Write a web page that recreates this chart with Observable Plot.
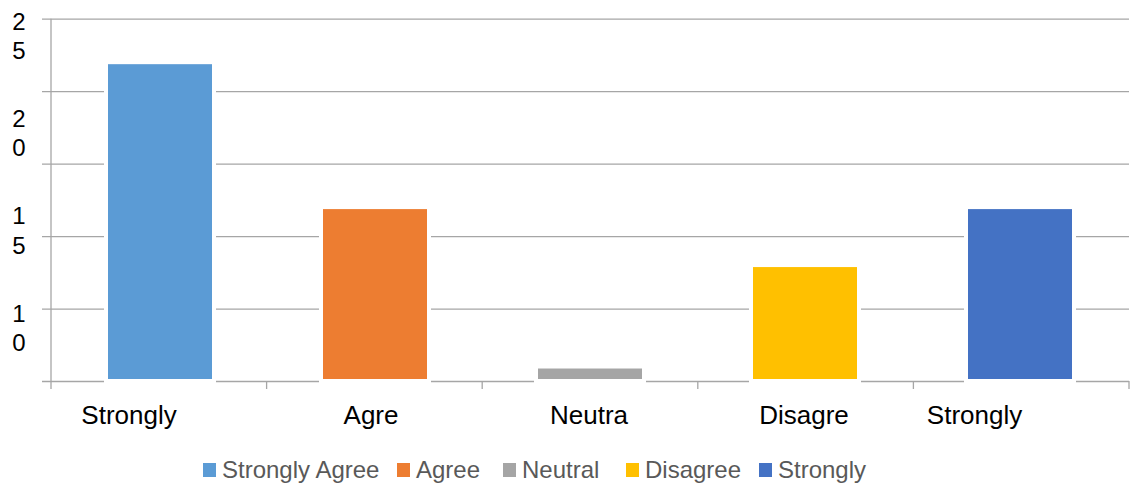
<!DOCTYPE html>
<html>
<head>
<meta charset="utf-8">
<script src="https://cdn.jsdelivr.net/npm/d3@7"></script>
<script src="https://cdn.jsdelivr.net/npm/@observablehq/plot@0.6"></script>
<style>
  html, body { margin: 0; padding: 0; background: #fff; }
  body { width: 1131px; height: 494px; overflow: hidden; font-family: "Liberation Sans", Arial, sans-serif; }
  #chart svg { display: block; }
  #legend { position: relative; height: 49px; }
  .item { position: absolute; top: 11px; display: flex; align-items: center; font-size: 24px; color: #595959; white-space: nowrap; }
  .sw { width: 13px; height: 14px; margin-right: 6px; }
</style>
</head>
<body>
<div id="chart"></div>
<div id="legend"></div>
<script>
const categories = ["Strongly Agree", "Agree", "Neutral", "Disagree", "Strongly"];
const tickLabels = ["Strongly", "Agre", "Neutra", "Disagre", "Strongly"];
const values = [22, 12, 1, 8, 12];
const colors = ["#5B9BD5", "#ED7D31", "#A5A5A5", "#FFC000", "#4472C4"];
const yTicks = [25, 20, 15, 10];
const gridTicks = [5, 10, 15, 20, 25];

const data = categories.map((c, i) => ({category: c, value: values[i], label: tickLabels[i]}));

const W = 1131, H = 445;
const mL = 51, mR = 2, mT = 18.7, mB = 64;
const step = (W - mL - mR) / categories.length;
const labelDx = [-31.5, -4.5, -1.5, -1.5, -46];
const font = "Liberation Sans, Arial, sans-serif";

const yLabelMarks = yTicks.map((t, i) => Plot.text([t], {
  y: d => d,
  text: d => String(d).split("").join("\n"),
  frameAnchor: "left",
  textAnchor: "middle",
  dx: -32.5,
  dy: 16 + i * 24.8,
  lineHeight: 1.22,
  fontSize: 24,
  fill: "#000"
}));

const xLabelMarks = data.map((d, i) => Plot.text([d], {
  x: "category",
  text: "label",
  frameAnchor: "bottom",
  dy: 42,
  dx: labelDx[i],
  fontSize: 26,
  fill: "#000"
}));

const axisMark = (index, scales, values, dims) => {
  const g = d3.create("svg:g").attr("stroke", "#a6a6a6").attr("stroke-width", 1.3).attr("fill", "none");
  const y0 = scales.y(0), yTop = scales.y(25);
  const x0 = dims.marginLeft;
  g.append("line").attr("x1", x0).attr("x2", x0).attr("y1", yTop).attr("y2", y0 + 8);
  for (let i = 1; i <= categories.length; i++) {
    const xx = x0 + i * step;
    g.append("line").attr("x1", xx).attr("x2", xx).attr("y1", y0).attr("y2", y0 + 8);
  }
  return g.node();
};

const plot = Plot.plot({
  width: W,
  height: H,
  marginLeft: mL,
  marginRight: mR,
  marginTop: mT,
  marginBottom: mB,
  style: {fontFamily: font, background: "#fff"},
  x: {domain: categories, paddingInner: 0.5, paddingOuter: 0.25, axis: null},
  y: {domain: [0, 25], axis: null},
  color: {domain: categories, range: colors},
  marks: [
    Plot.ruleY(gridTicks, {y: d => d, stroke: "#a6a6a6", strokeWidth: 1.3, insetLeft: -9}),
    Plot.ruleY([0], {stroke: "#a6a6a6", strokeWidth: 1.3, insetLeft: -9}),
    axisMark,
    Plot.barY(data, {x: "category", y: "value", fill: "category", stroke: "#fff", strokeWidth: 4}),
    ...yLabelMarks,
    ...xLabelMarks
  ]
});
document.getElementById("chart").appendChild(plot);

// legend
const legendX = [203, 397, 503, 626, 759];
const legend = document.getElementById("legend");
categories.forEach((c, i) => {
  const it = document.createElement("div");
  it.className = "item";
  it.style.left = legendX[i] + "px";
  const sw = document.createElement("span");
  sw.className = "sw";
  sw.style.background = colors[i];
  const tx = document.createElement("span");
  tx.textContent = c;
  it.appendChild(sw);
  it.appendChild(tx);
  legend.appendChild(it);
});
</script>
</body>
</html>
